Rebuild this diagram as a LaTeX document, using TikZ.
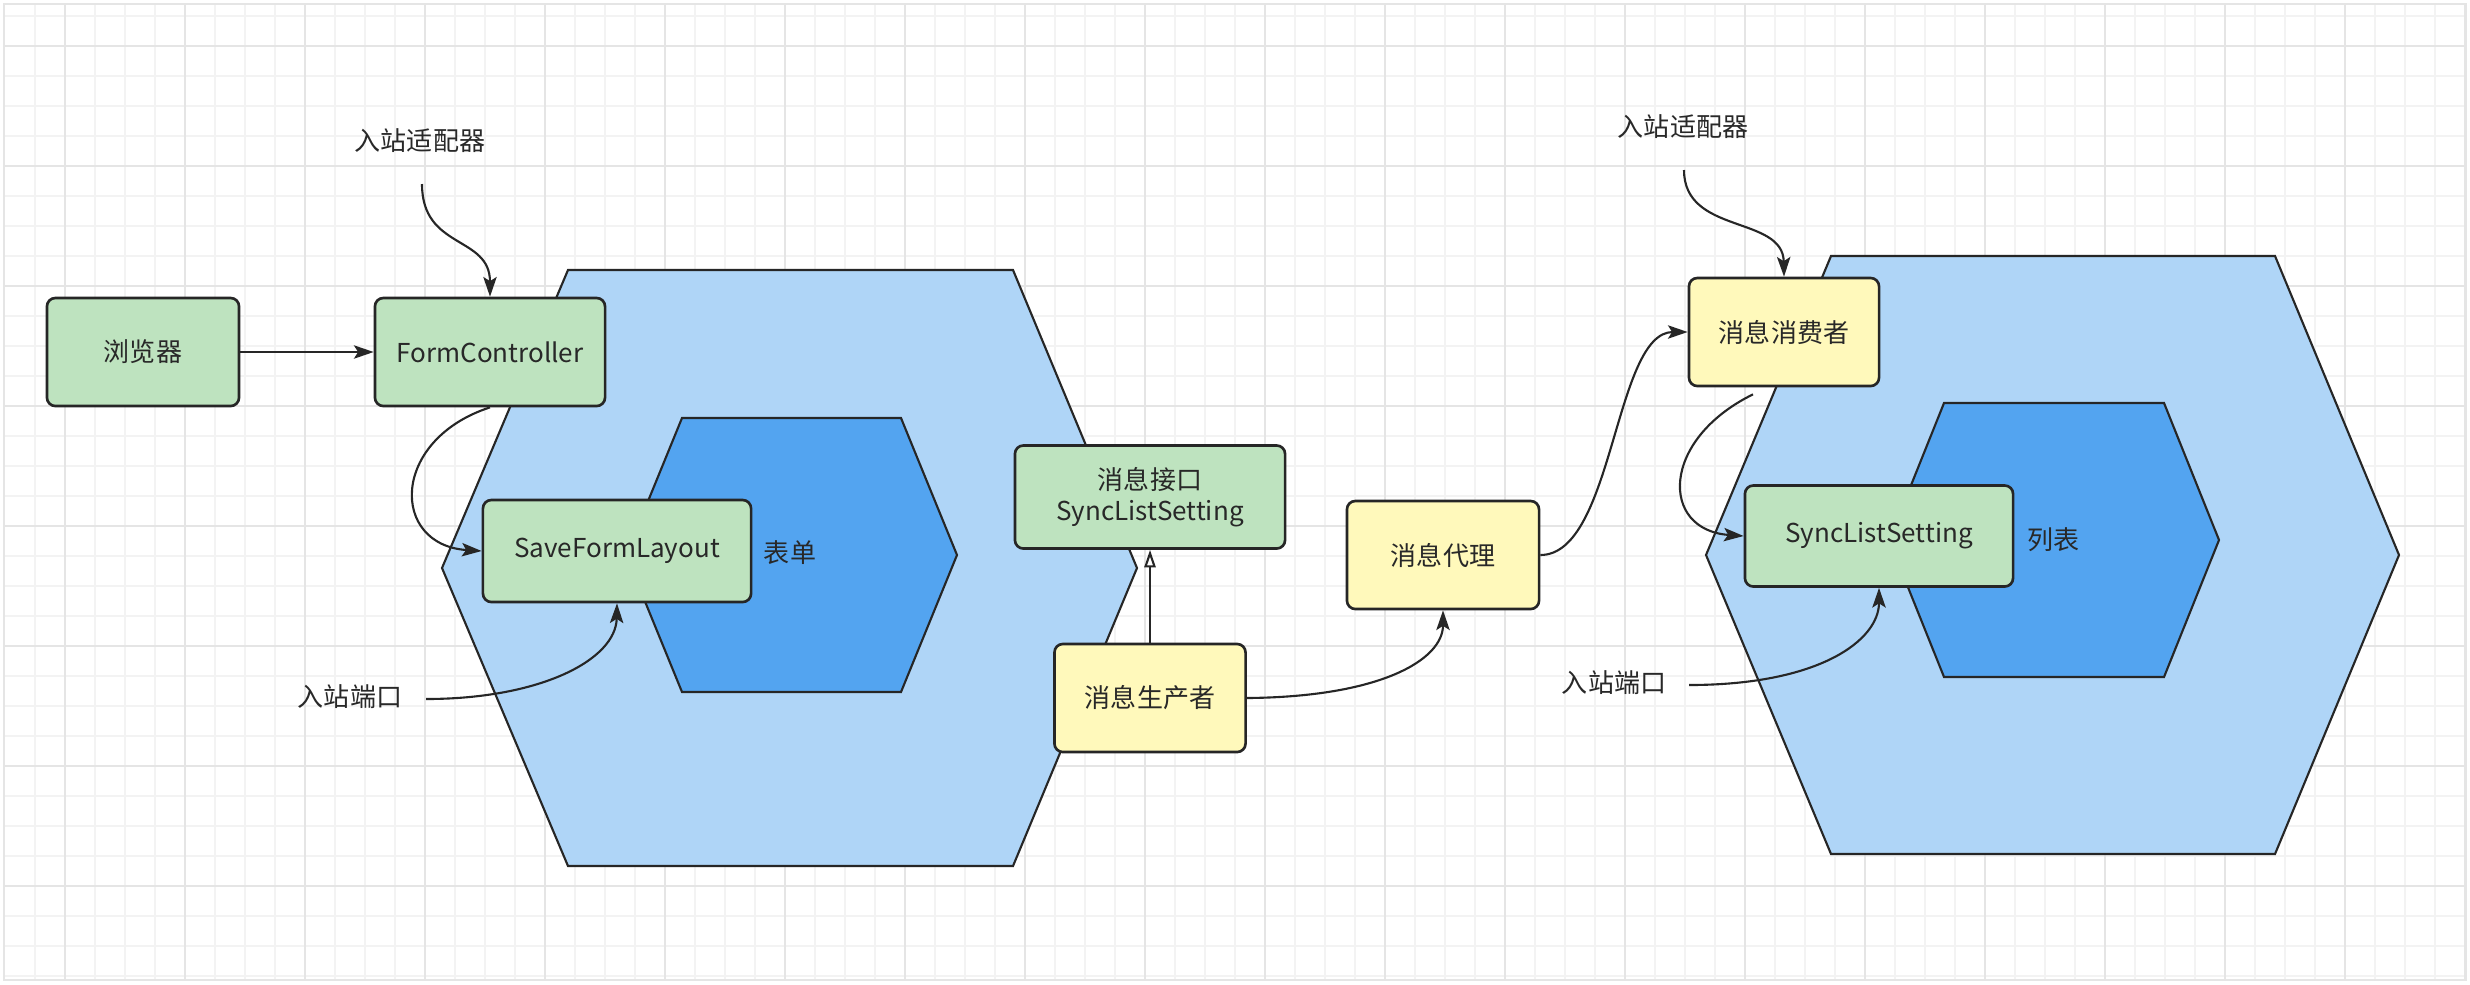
\documentclass[tikz,border=0pt]{standalone}
\usepackage{fontspec}
\setmainfont{Noto Sans CJK SC}
\usetikzlibrary{arrows.meta}
\definecolor{boxgreen}{RGB}{190,227,191}
\definecolor{boxyellow}{RGB}{255,249,187}
\definecolor{hexlight}{RGB}{175,213,247}
\definecolor{hexdark}{RGB}{83,164,240}
\definecolor{edgegray}{RGB}{38,38,38}
\definecolor{inkgray}{RGB}{40,40,40}
\definecolor{gridlight}{RGB}{243,243,243}
\definecolor{gridmid}{RGB}{229,229,229}

\begin{document}
\begin{tikzpicture}[x=0.01cm,y=-0.01cm,font=\fontsize{7.4}{8.8}\selectfont]
\tikzstyle{gridline}=[draw=gridlight,line width=0.45pt]
\tikzstyle{gridmajor}=[draw=gridmid,line width=0.45pt]
\tikzstyle{hexouter}=[fill=hexlight,draw=edgegray,line width=0.6pt]
\tikzstyle{hexinner}=[fill=hexdark,draw=edgegray,line width=0.6pt]
\tikzstyle{box}=[rectangle,rounded corners=2.4pt,draw=edgegray,line width=0.75pt,text=inkgray,align=center,inner sep=0pt]
\tikzstyle{greenbox}=[box,fill=boxgreen]
\tikzstyle{yellowbox}=[box,fill=boxyellow]
\tikzstyle{tag}=[text=inkgray,inner sep=0pt]
\tikzstyle{link}=[draw=edgegray,line width=0.6pt,-{Stealth[length=5.6pt,width=3.8pt,inset=1.2pt]}]
\tikzstyle{realize}=[draw=edgegray,line width=0.6pt,-{Triangle[open,length=5pt,width=3.2pt]}]
\useasboundingbox (0,0) rectangle (2470,984);
\fill[white] (0,0) rectangle (2470,984);
\foreach \x in {35,65,...,2465} \draw[gridline] (\x,4) -- (\x,980);
\foreach \y in {16,46,...,976} \draw[gridline] (4,\y) -- (2466,\y);
\foreach \x in {65,185,...,2465} \draw[gridmajor] (\x,4) -- (\x,980);
\foreach \y in {46,166,...,976} \draw[gridmajor] (4,\y) -- (2466,\y);
\draw[gridmajor] (4,4) rectangle (2466,980);
\draw[hexouter] (442,568) -- (568,270) -- (1013,270) -- (1137,568) -- (1013,866) -- (568,866) -- cycle;
\draw[hexinner] (626,555) -- (682,418) -- (901,418) -- (957,555) -- (901,692) -- (682,692) -- cycle;
\draw[hexouter] (1706,555) -- (1831,256) -- (2275,256) -- (2399,555) -- (2275,854) -- (1831,854) -- cycle;
\draw[hexinner] (1889,540) -- (1944,403) -- (2164,403) -- (2219,540) -- (2164,677) -- (1944,677) -- cycle;
\foreach \name/\point/\bw/\bh/\txt in {
	browser/{143,352}/1.92cm/1.08cm/浏览器,
	formctl/{490,352}/2.30cm/1.08cm/FormController,
	savelayout/{617,551}/2.68cm/1.02cm/SaveFormLayout,
	msgport/{1150,497}/2.70cm/1.03cm/{消息接口\\SyncListSetting},
	synclist/{1879,536}/2.68cm/1.01cm/SyncListSetting}
	\node[greenbox,minimum width=\bw,minimum height=\bh] (\name) at (\point) {\txt};
\foreach \name/\point/\bw/\txt in {
	producer/{1150,698}/1.91cm/消息生产者,
	broker/{1443,555}/1.92cm/消息代理,
	consumer/{1784,332}/1.90cm/消息消费者}
	\node[yellowbox,minimum width=\bw,minimum height=1.08cm] (\name) at (\point) {\txt};
\node[tag] (adapterA) at (420,141) {入站适配器};
\node[tag] (portA) at (350,697) {入站端口};
\node[tag] (formtag) at (790,553) {表单};
\node[tag] (adapterB) at (1683,127) {入站适配器};
\node[tag] (portB) at (1614,683) {入站端口};
\node[tag] (listtag) at (2053,540) {列表};
\coordinate (adapterAend) at (422,184);
\coordinate (portAend) at (426,699);
\coordinate (adapterBend) at (1684,170);
\coordinate (portBend) at (1689,685);
\draw[link] (browser) -- (formctl);
\draw[link] (adapterAend) .. controls (422,250) and (490,235) .. (formctl.north);
\draw[link] (formctl.south) .. controls (390,440) and (390,545) .. (savelayout.west);
\draw[link] (portAend) .. controls (540,699) and (616,660) .. (savelayout.south);
\draw[realize] (producer) -- (msgport);
\draw[link] (producer.east) .. controls (1380,697) and (1443,660) .. (broker.south);
\draw[link] (broker.east) .. controls (1614,555) and (1614,332) .. (consumer.west);
\draw[link] (adapterBend) .. controls (1684,235) and (1783,215) .. (consumer.north);
\draw[link] ([xshift=-0.31cm,yshift=-0.07cm]consumer.south) .. controls (1660,440) and (1660,530) .. (synclist.west);
\draw[link] (portBend) .. controls (1820,685) and (1879,640) .. (synclist.south);
\end{tikzpicture}
\end{document}
